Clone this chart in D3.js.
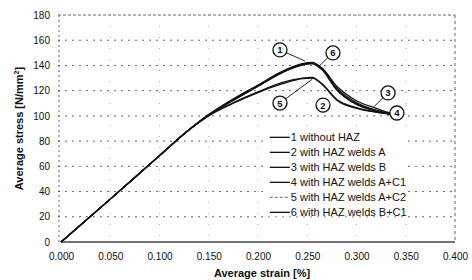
<!DOCTYPE html>
<html>
<head>
<meta charset="utf-8">
<script src="https://cdn.jsdelivr.net/npm/d3@7"></script>
<style>
    body { margin: 0; background: #fff; }
    svg text { font-family: "Liberation Sans", Arial, sans-serif; }
    .tick text { font-size: 10px; fill: #111; }
    .axis-label { font-size: 11px; font-weight: bold; fill: #111; }
    .legend text { font-size: 11px; fill: #111; }
</style>
</head>
<body>
<svg id="chart"></svg>
<script>
// strain [%] points shared by all series
const strain = [0, 0.05, 0.10, 0.13, 0.15, 0.175, 0.20, 0.225, 0.245, 0.255, 0.265, 0.28, 0.30, 0.32, 0.335];

// average stress [N/mm2] per series
const s1 = [0, 34, 68.5, 89, 101, 113.5, 124.5, 135.5, 141.5, 142.5, 137.5, 122, 110.5, 104.5, 101.5];
const s2 = [0, 34, 68.5, 89, 100, 110, 118.5, 125.5, 129.5, 130, 125, 112.5, 106, 103, 101.5];
const s3 = [0, 34, 68.5, 89, 101, 113, 124, 135, 141, 142, 138, 123.5, 112, 106, 102];
const s4 = [0, 34, 68.5, 89, 100.5, 112.5, 123.5, 134.5, 140.5, 141.5, 136.5, 120.5, 109, 103.5, 101];
const s5 = [0, 34, 68.5, 89, 100.5, 110.5, 119, 126.5, 130, 130.5, 125.5, 113, 106.5, 103, 101.5];
const s6 = [0, 34, 68.5, 89, 100.5, 112.5, 123.5, 134.5, 140.5, 141.5, 137, 121, 109.5, 104, 101.5];

const seriesNames = ['1 without HAZ', '2 with HAZ welds A', '3 with HAZ welds B',
    '4 with HAZ welds A+C1', '5 with HAZ welds A+C2', '6 with HAZ welds B+C1'];
const seriesValues = [s1, s2, s3, s4, s5, s6];

const xTicks = [0, 0.05, 0.10, 0.15, 0.20, 0.25, 0.30, 0.35, 0.40];
const xTickLabels = ['0.000', '0.050', '0.100', '0.150', '0.200', '0.250', '0.300', '0.350', '0.400'];
const yTicks = [0, 20, 40, 60, 80, 100, 120, 140, 160, 180];

// numbered callouts: circle position and the curve point the leader goes to
const calloutIds = ['1', '6', '5', '2', '3', '4'];
const calloutAt = [[0.2223, 152.3], [0.2761, 149.9], [0.2223, 110.2], [0.266, 108.6], [0.332, 118.2], [0.341, 102.3]];
const calloutTo = [[0.2477, 143.5], [0.261, 138.8], [0.255, 129], null, [0.318, 107.5], [0.327, 103]];

class StressStrain {

    constructor(_config) {
        this.config = {
            parentElement: _config.parentElement,
            containerWidth: _config.containerWidth || 472,
            containerHeight: _config.containerHeight || 280,
        };
        this.config.margin = _config.margin || { top: 15, bottom: 38, right: 17, left: 61 };
        this.initVis();
    }

    initVis() {
        let vis = this;

        vis.width = vis.config.containerWidth - vis.config.margin.left - vis.config.margin.right;
        vis.height = vis.config.containerHeight - vis.config.margin.top - vis.config.margin.bottom;

        vis.svg = d3.select(vis.config.parentElement)
            .attr('width', vis.config.containerWidth)
            .attr('height', vis.config.containerHeight);

        vis.chart = vis.svg.append('g')
            .attr('transform', `translate(${vis.config.margin.left}, ${vis.config.margin.top})`);

        vis.xScale = d3.scaleLinear().domain([0, 0.4]).range([0, vis.width]);
        vis.yScale = d3.scaleLinear().domain([0, 180]).range([vis.height, 0]);

        // dotted grid, scan-like
        vis.chart.append('g')
            .selectAll('line')
            .data(yTicks.filter(d => d > 0))
            .join('line')
                .attr('x1', -3).attr('x2', vis.width)
                .attr('y1', d => vis.yScale(d)).attr('y2', d => vis.yScale(d))
                .attr('stroke', '#666')
                .attr('stroke-width', 1)
                .attr('stroke-dasharray', d => d === 180 ? '3,2' : '2,5');

        vis.chart.append('g')
            .selectAll('line')
            .data(xTicks.filter(d => d > 0 && d < 0.4))
            .join('line')
                .attr('x1', d => vis.xScale(d)).attr('x2', d => vis.xScale(d))
                .attr('y1', 0).attr('y2', vis.height)
                .attr('stroke', '#999')
                .attr('stroke-width', 0.8)
                .attr('stroke-dasharray', '1,10');

        // frame: left dotted, right dotted, bottom solid
        vis.chart.append('line')
            .attr('x1', -2).attr('x2', -2).attr('y1', 0).attr('y2', vis.height)
            .attr('stroke', '#666').attr('stroke-dasharray', '2,3');
        vis.chart.append('line')
            .attr('x1', vis.width).attr('x2', vis.width).attr('y1', 0).attr('y2', vis.height)
            .attr('stroke', '#666').attr('stroke-dasharray', '3,3');
        vis.chart.append('line')
            .attr('x1', 0).attr('x2', vis.width).attr('y1', vis.height).attr('y2', vis.height)
            .attr('stroke', '#444').attr('stroke-width', 1.5);

        const xAxis = d3.axisBottom(vis.xScale)
            .tickValues(xTicks)
            .tickFormat((d, i) => xTickLabels[i])
            .tickSize(0).tickPadding(11);
        vis.chart.append('g').call(xAxis)
            .attr('transform', `translate(0, ${vis.height})`)
            .call(g => g.select('.domain').remove());

        const yAxis = d3.axisLeft(vis.yScale)
            .tickValues(yTicks)
            .tickSize(0).tickPadding(11);
        vis.chart.append('g').call(yAxis)
            .call(g => g.select('.domain').remove());

        vis.chart.append('text')
            .attr('class', 'axis-label')
            .attr('x', vis.width / 2 + 4)
            .attr('y', vis.height + 35)
            .attr('text-anchor', 'middle')
            .text('Average strain [%]');

        const yLabel = vis.chart.append('text')
            .attr('class', 'axis-label')
            .attr('transform', `translate(-38, ${vis.height / 2}) rotate(-90)`)
            .attr('text-anchor', 'middle');
        yLabel.append('tspan').text('Average stress [N/mm');
        yLabel.append('tspan').attr('font-size', '7px').attr('dy', -4).text('2');
        yLabel.append('tspan').attr('dy', 4).text(']');
    }

    render() {
        let vis = this;

        // legend first, on a white ground, so the curves can pass over it
        const legend = vis.chart.append('g')
            .attr('class', 'legend')
            .attr('transform', `translate(${vis.xScale(0.212)}, ${vis.yScale(83)})`);

        legend.append('rect')
            .attr('x', -3).attr('y', -7)
            .attr('width', 141).attr('height', 86)
            .attr('fill', '#fff');

        const rows = legend.selectAll('g')
            .data(seriesNames)
            .join('g')
                .attr('transform', (d, i) => `translate(0, ${i * 15})`);

        rows.append('line')
            .attr('x1', 0).attr('x2', 20)
            .attr('stroke', (d, i) => i === 4 ? '#888' : '#111')
            .attr('stroke-width', 1.3)
            .attr('stroke-dasharray', (d, i) => i === 4 ? '3,2' : null);

        rows.append('text')
            .attr('x', 21)
            .attr('y', 4)
            .text(d => d);

        const line = d3.line()
            .x(d => vis.xScale(d[0]))
            .y(d => vis.yScale(d[1]))
            .curve(d3.curveMonotoneX);

        vis.chart.append('g')
            .selectAll('path')
            .data(seriesValues.map(vals => strain.map((s, i) => [s, vals[i]])))
            .join('path')
                .attr('d', line)
                .attr('fill', 'none')
                .attr('stroke', '#111')
                .attr('stroke-width', 1.3);

        // callouts
        const r = 7;
        const callouts = calloutIds.map((id, i) => ({ id: id, at: calloutAt[i], to: calloutTo[i] }));
        const cg = vis.chart.append('g')
            .selectAll('g')
            .data(callouts)
            .join('g');

        cg.filter(d => d.to)
            .append('line')
                .each(function(d) {
                    const x0 = vis.xScale(d.at[0]), y0 = vis.yScale(d.at[1]);
                    const x1 = vis.xScale(d.to[0]), y1 = vis.yScale(d.to[1]);
                    const len = Math.hypot(x1 - x0, y1 - y0);
                    d3.select(this)
                        .attr('x1', x0 + (x1 - x0) * r / len)
                        .attr('y1', y0 + (y1 - y0) * r / len)
                        .attr('x2', x1).attr('y2', y1);
                })
                .attr('stroke', '#111')
                .attr('stroke-width', 0.9);

        cg.append('circle')
            .attr('cx', d => vis.xScale(d.at[0]))
            .attr('cy', d => vis.yScale(d.at[1]))
            .attr('r', r)
            .attr('fill', '#fff')
            .attr('stroke', '#111')
            .attr('stroke-width', 1.3);

        cg.append('text')
            .attr('x', d => vis.xScale(d.at[0]))
            .attr('y', d => vis.yScale(d.at[1]) + 3.5)
            .attr('text-anchor', 'middle')
            .attr('font-size', '9.5px')
            .attr('font-weight', 'bold')
            .attr('fill', '#111')
            .text(d => d.id);
    }
}

const chart = new StressStrain({ parentElement: '#chart' });
chart.render();
</script>
</body>
</html>
